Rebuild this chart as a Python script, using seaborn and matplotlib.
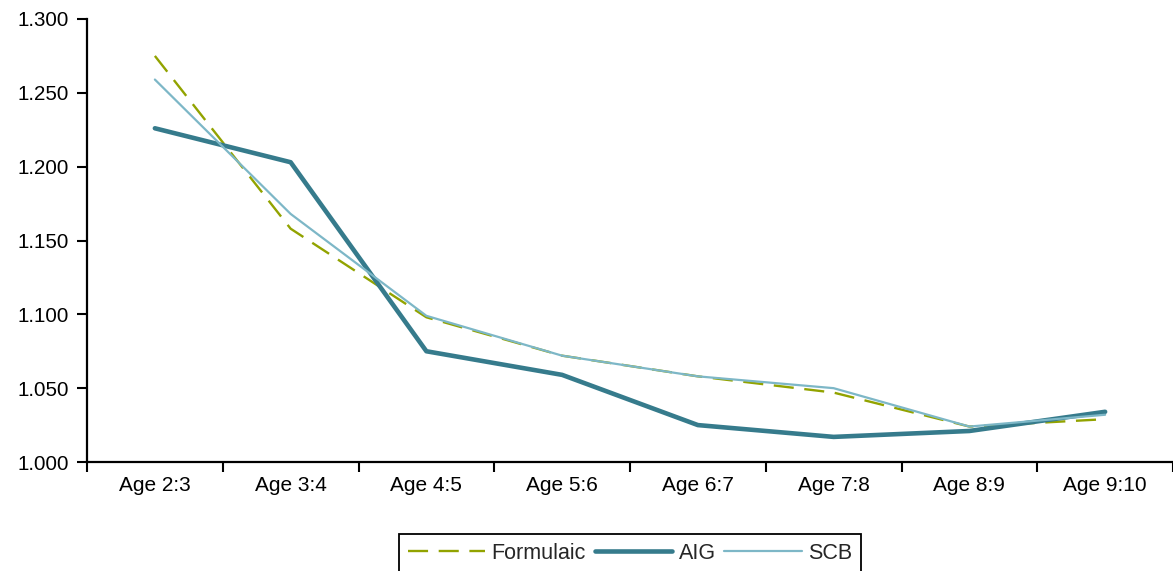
import matplotlib
matplotlib.use("Agg")
import matplotlib.pyplot as plt
import seaborn as sns
from matplotlib.ticker import FixedLocator, FuncFormatter

sns.set_style("white")
plt.rcParams["font.family"] = ["Liberation Sans", "DejaVu Sans"]

ages = ["Age 2:3", "Age 3:4", "Age 4:5", "Age 5:6", "Age 6:7", "Age 7:8", "Age 8:9", "Age 9:10"]
formulaic = [1.275, 1.158, 1.098, 1.072, 1.058, 1.047, 1.024, 1.029]
aig = [1.226, 1.203, 1.075, 1.059, 1.025, 1.017, 1.021, 1.034]
scb = [1.259, 1.168, 1.099, 1.072, 1.058, 1.050, 1.024, 1.032]

fig = plt.figure(figsize=(11.73, 5.71), dpi=100)
ax = fig.add_axes([87 / 1173, 1 - 462 / 571, 1 - 87 / 1173, (462 - 19) / 571])

x = list(range(len(ages)))
sns.lineplot(x=x, y=formulaic, ax=ax, color="#92a300", linewidth=1.7,
             label="Formulaic", linestyle=(0, (8.5, 4.5)))
sns.lineplot(x=x, y=aig, ax=ax, color="#367b8c", linewidth=3.3, label="AIG")
sns.lineplot(x=x, y=scb, ax=ax, color="#7db7c7", linewidth=1.6, label="SCB")

ax.set_xlim(-0.5, len(ages) - 0.5)
ax.set_ylim(1.0, 1.3)
ax.set_yticks([1.0, 1.05, 1.1, 1.15, 1.2, 1.25, 1.3])
ax.yaxis.set_major_formatter(FuncFormatter(lambda v, p: f"{v:.3f}"))
ax.set_xticks(x)
ax.set_xticklabels(ages)
ax.xaxis.set_minor_locator(FixedLocator([i - 0.5 for i in range(len(ages) + 1)]))

ax.tick_params(axis="x", which="major", length=0, pad=10, labelsize=15, colors="black")
ax.tick_params(axis="x", which="minor", length=7, width=1.5, direction="out", color="black", bottom=True)
ax.tick_params(axis="y", which="major", length=7, width=1.5, direction="out", labelsize=14.8,
               colors="black", left=True, pad=6)

for side in ["top", "right"]:
    ax.spines[side].set_visible(False)
for side in ["left", "bottom"]:
    ax.spines[side].set_color("black")
    ax.spines[side].set_linewidth(1.6)
ax.grid(False)

leg = ax.legend(loc="upper center", bbox_to_anchor=(630 / 1173, 1 - 534 / 571),
                bbox_transform=fig.transFigure, ncol=3, frameon=True, fancybox=False,
                fontsize=15.5, handlelength=3.6, handletextpad=0.3, columnspacing=0.4,
                borderpad=0.4, borderaxespad=0)
leg.get_frame().set_edgecolor("black")
leg.get_frame().set_linewidth(1.3)
leg.get_frame().set_alpha(1)

fig.savefig("out.png", dpi=100)
